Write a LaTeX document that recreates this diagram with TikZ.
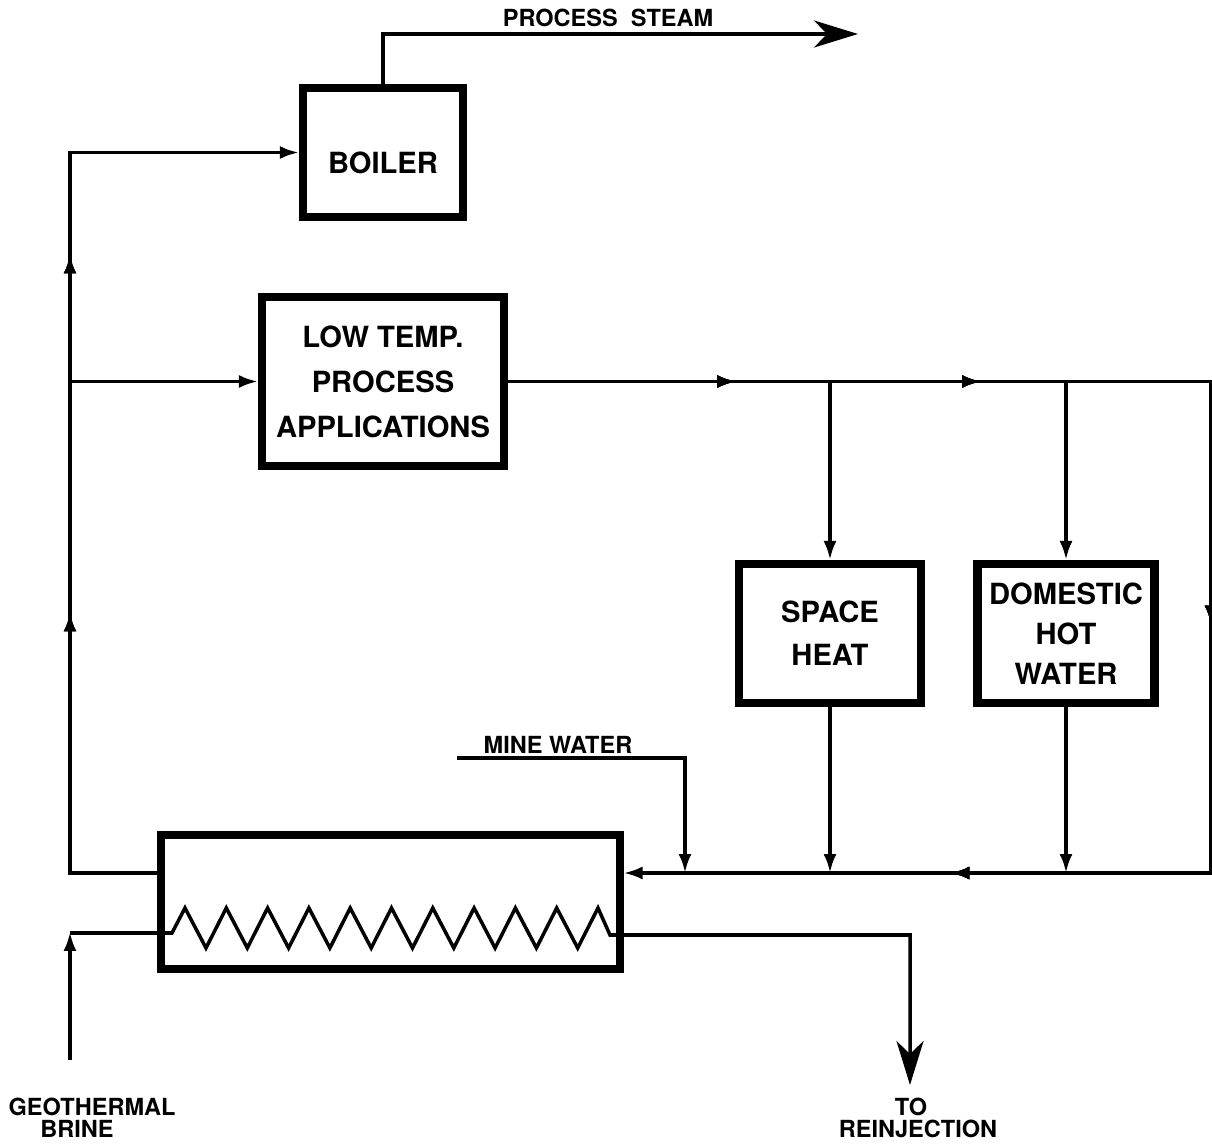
\documentclass[tikz,border=0pt]{standalone}
\usepackage{fontspec}
\setmainfont{TeX Gyre Heros}
\usetikzlibrary{arrows.meta, positioning, calc, decorations.markings}

\begin{document}
\begin{tikzpicture}[
    box/.style={draw, line width=2.3pt, align=center, inner sep=0pt, font=\fontsize{8.3}{12.2}\selectfont\bfseries},
    exchanger/.style={draw, line width=2pt, inner sep=0pt},
    pipe/.style={line width=1pt},
    flow/.style={pipe, -{Latex[length=1.9mm,width=1.3mm]}},
    bigflow/.style={pipe, -{Stealth[length=4.4mm,width=2.7mm,inset=1.3mm]}},
    arrowat/.style={postaction={decorate}, decoration={markings, mark=at position #1 with {\arrow{Latex[length=1.9mm,width=1.3mm]}}}},
    lbl/.style={font=\fontsize{6.7}{6.4}\selectfont\bfseries, align=center, inner sep=0pt}
]
    \useasboundingbox (0,0) rectangle (12.12,11.45);

    % ==== Units ====
    \node[box, minimum width=1.60cm, minimum height=1.29cm] (boiler) at (3.83,9.925) {\raisebox{-2.15mm}[0pt][0pt]{BOILER}};
    \node[box, minimum width=2.42cm, minimum height=1.69cm, font=\fontsize{8.3}{12.8}\selectfont\bfseries] (ltpa) at (3.83,7.635) {LOW TEMP.\\PROCESS\\APPLICATIONS};
    \node[box, minimum width=1.82cm, minimum height=1.39cm] (space) at (8.30,5.115) {SPACE\\HEAT};
    \node[box, minimum width=1.77cm, minimum height=1.39cm, font=\fontsize{8.3}{11.4}\selectfont\bfseries] (dhw) at (10.66,5.115) {DOMESTIC\\HOT\\WATER};
    \node[exchanger, minimum width=4.59cm, minimum height=1.34cm] (hx) at (3.905,2.43) {};

    % ==== Junctions and free ends ====
    \coordinate (leftbot) at (0.70,2.72);
    \coordinate (steamout) at (8.58,11.11);
    \coordinate (rightup) at (12.11,7.635);
    \coordinate (rightdown) at (12.11,2.72);
    \coordinate (minein) at (4.57,3.87);
    \coordinate (mineturn) at (6.85,3.87);
    \coordinate (brinein) at (0.70,0.85);
    \coordinate (brinecorner) at (0.70,2.12);
    \coordinate (rjcorner) at (9.10,2.10);
    \coordinate (rjout) at (9.10,0.60);

    % ==== Process steam ====
    \draw[bigflow] (boiler.north) -- (boiler.north |- steamout) -- (steamout);
    \node[lbl] (steamlbl) at (6.08,11.27) {PROCESS\ \ STEAM};

    % ==== Heated water up the left side ====
    \draw[flow, arrowat=3.48cm, arrowat=7.06cm] (hx.west |- leftbot) -- (leftbot) -- (leftbot |- boiler.west) -- (boiler.west);
    \draw[flow] (leftbot |- ltpa.west) -- (ltpa.west);

    % ==== Cascade to space heat and hot water, back to exchanger ====
    \draw[flow, arrowat=2.28cm, arrowat=4.73cm, arrowat=9.46cm, arrowat=14.55cm]
        (ltpa.east) -- (rightup) -- (rightdown) -- (hx.east |- rightdown);
    \draw[flow] (ltpa.east -| space.north) -- (space.north);
    \draw[flow] (ltpa.east -| dhw.north) -- (dhw.north);
    \draw[flow] (space.south) -- (space.south |- rightdown);
    \draw[flow] (dhw.south) -- (dhw.south |- rightdown);

    % ==== Mine water ====
    \draw[flow] (minein) -- (mineturn) -- (mineturn |- rightdown);
    \node[lbl] (minelbl) at (5.58,4.00) {MINE WATER};

    % ==== Brine through the coil ====
    \draw[flow] (brinein) -- ([yshift=0.3pt]brinecorner);
    \draw[bigflow] (brinecorner) -- (1.72,2.12)
        \foreach \k in {0,...,9} { -- ({1.85+0.413*\k},2.37) -- ({2.06+0.413*\k},1.97) }
        -- (5.98,2.37) -- (6.10,2.10) -- (rjcorner) -- (rjout);
    \node[lbl] (brinelbl) at (0.92,0.27) {GEOTHERMAL\\\hspace*{-3mm}BRINE};
    \node[lbl] (rjlbl) at (9.18,0.27) {\hspace*{-1.4mm}TO\\REINJECTION};
\end{tikzpicture}
\end{document}
